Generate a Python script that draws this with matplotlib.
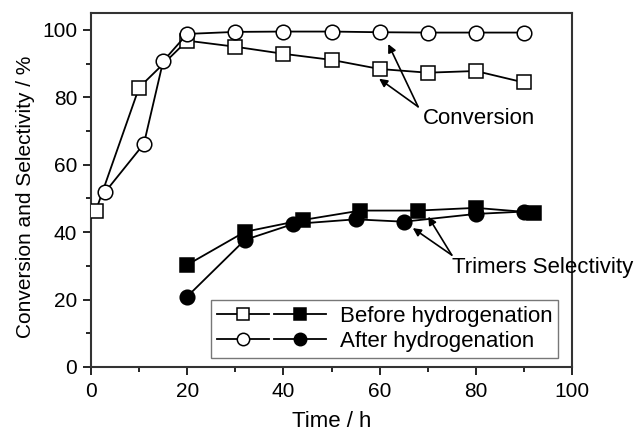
import matplotlib
matplotlib.use("Agg")
import matplotlib.pyplot as plt
from matplotlib.legend_handler import HandlerTuple
from matplotlib.ticker import MultipleLocator

plt.rcParams['font.family'] = ['Liberation Sans', 'DejaVu Sans']

# Conversion, before hydrogenation (open squares)
t_conv_before = [1, 10, 20, 30, 40, 50, 60, 70, 80, 90]
conv_before = [46.3, 82.9, 96.8, 95.0, 92.9, 91.1, 88.4, 87.3, 87.8, 84.4]

# Conversion, after hydrogenation (open circles)
t_conv_after = [3, 11, 15, 20, 30, 40, 50, 60, 70, 80, 90]
conv_after = [52.0, 66.2, 90.7, 98.8, 99.4, 99.5, 99.5, 99.3, 99.2, 99.2, 99.2]

# Trimers selectivity, before hydrogenation (filled squares)
t_sel_before = [20, 32, 44, 56, 68, 80, 92]
sel_before = [30.3, 40.1, 43.6, 46.4, 46.4, 47.2, 45.8]

# Trimers selectivity, after hydrogenation (filled circles)
t_sel_after = [20, 32, 42, 55, 65, 80, 90]
sel_after = [20.9, 37.7, 42.4, 43.8, 43.1, 45.4, 46.1]

legend_labels = ["Before hydrogenation", "After hydrogenation"]

fig = plt.figure(figsize=(6.35, 4.34), dpi=100)
ax = fig.add_axes([0.1433, 0.1544, 0.7575, 0.8156])

lw = 1.3
ms_sq = 9.5
ms_c = 10.5
edge = 'black'

l1, = ax.plot(t_conv_before, conv_before, '-', color='black', lw=lw, marker='s',
              ms=ms_sq, mfc='white', mec=edge, mew=1.1, zorder=3)
l2, = ax.plot(t_conv_after, conv_after, '-', color='black', lw=lw, marker='o',
              ms=ms_c, mfc='white', mec=edge, mew=1.1, zorder=4)
l3, = ax.plot(t_sel_before, sel_before, '-', color='black', lw=lw, marker='s',
              ms=ms_sq, mfc='black', mec=edge, mew=1.1, zorder=3)
l4, = ax.plot(t_sel_after, sel_after, '-', color='black', lw=lw, marker='o',
              ms=ms_c, mfc='black', mec=edge, mew=1.1, zorder=4)

ax.set_xlim(0, 100)
ax.set_ylim(0, 105)
ax.xaxis.set_major_locator(MultipleLocator(20))
ax.xaxis.set_minor_locator(MultipleLocator(10))
ax.yaxis.set_major_locator(MultipleLocator(20))
ax.yaxis.set_minor_locator(MultipleLocator(10))
ax.tick_params(which='major', direction='out', length=6, width=1.2, labelsize=15,
               colors='black', top=False, right=False, pad=4)
ax.tick_params(axis='x', which='major', pad=5)
ax.tick_params(which='minor', direction='out', length=3.5, width=1.2,
               top=False, right=False)
for s in ax.spines.values():
    s.set_linewidth(1.5)
    s.set_color('#333333')

ax.set_xlabel("Time / h", fontsize=16)
ax.xaxis.set_label_coords(0.5, -0.124)
ax.set_ylabel("Conversion and Selectivity / %", fontsize=15)
ax.yaxis.set_label_coords(-0.116, 0.48)

# Annotations
arrow_kw = dict(arrowstyle='-|>', color='black', lw=1.2, mutation_scale=12,
                shrinkA=0, shrinkB=0)
ax.annotate("", xy=(59.9, 85.5), xytext=(68.0, 77.2), arrowprops=arrow_kw)
ax.annotate("", xy=(61.8, 95.8), xytext=(68.0, 77.2), arrowprops=arrow_kw)
ax.text(69.0, 73.6, "Conversion", fontsize=16, ha='left', va='center')

ax.annotate("", xy=(66.9, 41.2), xytext=(75.0, 33.2), arrowprops=arrow_kw)
ax.annotate("", xy=(70.1, 44.6), xytext=(75.0, 33.2), arrowprops=arrow_kw)
ax.text(75.0, 29.5, "Trimers Selectivity", fontsize=16, ha='left', va='center',
        clip_on=False)

leg = ax.legend([(l1, l3), (l2, l4)], legend_labels,
                handler_map={tuple: HandlerTuple(ndivide=None, pad=0.23)},
                loc='lower right', bbox_to_anchor=(0.971, 0.026), borderaxespad=0,
                fontsize=16, frameon=True, fancybox=False, edgecolor='#555555',
                handlelength=4.9, handletextpad=0.63, borderpad=0.25,
                labelspacing=0.2, markerscale=0.85)
leg.get_frame().set_linewidth(1.0)

fig.savefig("out.png", dpi=100)
